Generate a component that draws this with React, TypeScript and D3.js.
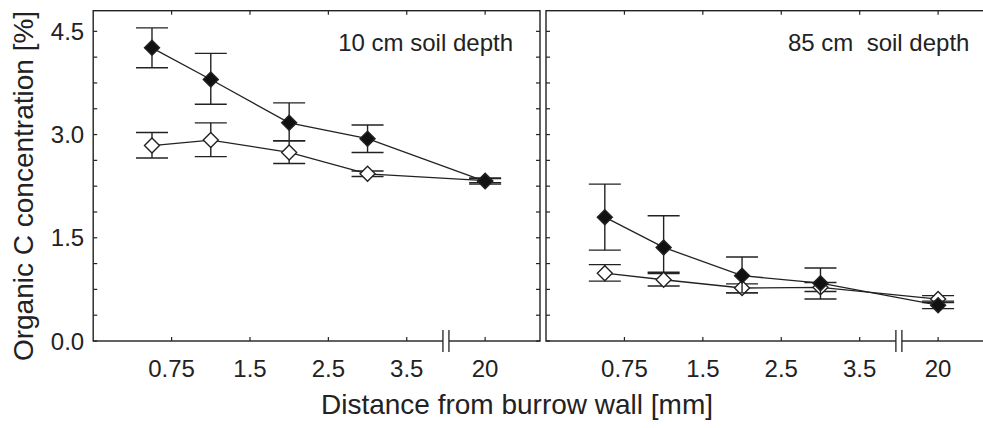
import React from "react";
import * as d3 from "d3";

// ---- data ----
const distanceLabels = ["0.75", "1.5", "2.5", "3.5", "20"];
const tickPositions = [1, 2, 3, 4, 5];
const pointPositions = [0.75, 1.5, 2.5, 3.5, 5];
const breakPosition = 4.5;

const yTickLabels = [0, 1.5, 3.0, 4.5];
const yMinorStep = 0.375;

const panelTitles = ["10 cm soil depth", "85 cm  soil depth"];

// 10 cm
const top_filledMean = [4.26, 3.8, 3.17, 2.94, 2.32];
const top_filledLo = [3.97, 3.44, 2.91, 2.74, 2.28];
const top_filledHi = [4.55, 4.18, 3.46, 3.14, 2.37];
const top_openMean = [2.84, 2.92, 2.74, 2.43, 2.33];
const top_openLo = [2.66, 2.68, 2.58, 2.39, 2.3];
const top_openHi = [3.03, 3.17, 2.91, 2.47, 2.36];

// 85 cm
const deep_filledMean = [1.8, 1.36, 0.95, 0.84, 0.52];
const deep_filledLo = [1.32, 1.0, 0.7, 0.61, 0.47];
const deep_filledHi = [2.28, 1.82, 1.22, 1.06, 0.58];
const deep_openMean = [0.985, 0.89, 0.77, 0.78, 0.61];
const deep_openLo = [0.87, 0.8, 0.7, 0.72, 0.56];
const deep_openHi = [1.11, 0.98, 0.83, 0.85, 0.66];

const INK = "#222";
const FONT = "'Liberation Sans', Arial, Helvetica, sans-serif";

type Series = { mean: number[]; lo: number[]; hi: number[]; filled: boolean };

function diamond(cx: number, cy: number, r: number) {
  return `M${cx},${cy - r}L${cx + r},${cy}L${cx},${cy + r}L${cx - r},${cy}Z`;
}

function Panel(props: {
  x0: number;
  width: number;
  top: number;
  bottom: number;
  title: string;
  titleX: number;
  titleAnchor: "start" | "end";
  series: Series[];
  showYLabels: boolean;
}) {
  const { x0, width, top, bottom, title, titleX, titleAnchor, series, showYLabels } = props;
  const x = d3.scaleLinear().domain([0, 5.7]).range([x0, x0 + width]);
  const y = d3.scaleLinear().domain([0, 4.8]).range([bottom, top]);
  const yTicks = d3.range(0, 4.5 + 1e-9, yMinorStep);
  const tl = 4;
  const capHalf = 16;
  const r = 7.5;
  const line = d3
    .line<number>()
    .x((_, i) => x(pointPositions[i]))
    .y((v) => y(v));
  const bx = x(breakPosition);
  return (
    <g>
      <rect x={x0} y={top} width={width} height={bottom - top} fill="none" stroke={INK} strokeWidth={1.4} />
      {yTicks.map((t, i) => (
        <g key={"yt" + i}>
          <line x1={x0} x2={x0 + tl} y1={y(t)} y2={y(t)} stroke={INK} strokeWidth={1.2} />
          <line x1={x0 + width} x2={x0 + width - tl} y1={y(t)} y2={y(t)} stroke={INK} strokeWidth={1.2} />
        </g>
      ))}
      {showYLabels &&
        yTickLabels.map((t, i) => (
          <text
            key={"yl" + i}
            x={x0 - 9}
            y={y(t) + 8.7}
            textAnchor="end"
            fontSize={24}
            fontFamily={FONT}
            fill={INK}
          >
            {d3.format(".1f")(t)}
          </text>
        ))}
      {tickPositions.map((p, i) => (
        <g key={"xt" + i}>
          <line x1={x(p)} x2={x(p)} y1={bottom} y2={bottom - tl} stroke={INK} strokeWidth={1.2} />
          <line x1={x(p)} x2={x(p)} y1={top} y2={top + tl} stroke={INK} strokeWidth={1.2} />
          <text
            x={x(p)}
            y={bottom + 36}
            textAnchor="middle"
            fontSize={24}
            fontFamily={FONT}
            fill={INK}
          >
            {distanceLabels[i]}
          </text>
        </g>
      ))}
      <rect x={bx - 3} y={bottom - 2} width={6} height={4} fill="#fff" />
      <line x1={bx - 3} x2={bx - 3} y1={bottom - 11} y2={bottom + 11} stroke={INK} strokeWidth={1.3} />
      <line x1={bx + 3} x2={bx + 3} y1={bottom - 11} y2={bottom + 11} stroke={INK} strokeWidth={1.3} />
      <text
        x={titleX}
        y={top + 40}
        textAnchor={titleAnchor}
        fontSize={24}
        fontFamily={FONT}
        fill={INK}
        style={{ whiteSpace: "pre" }}
      >
        {title}
      </text>
      {series.map((s, si) => (
        <g key={"s" + si}>
          <path d={line(s.mean) || ""} fill="none" stroke={INK} strokeWidth={1.3} />
          {s.mean.map((m, i) => {
            const cx = x(pointPositions[i]);
            return (
              <g key={"e" + i}>
                <line x1={cx} x2={cx} y1={y(s.lo[i])} y2={y(s.hi[i])} stroke={INK} strokeWidth={1.4} />
                <line x1={cx - capHalf} x2={cx + capHalf} y1={y(s.lo[i])} y2={y(s.lo[i])} stroke={INK} strokeWidth={1.4} />
                <line x1={cx - capHalf} x2={cx + capHalf} y1={y(s.hi[i])} y2={y(s.hi[i])} stroke={INK} strokeWidth={1.4} />
              </g>
            );
          })}
          {s.mean.map((m, i) => (
            <path
              key={"d" + i}
              d={diamond(x(pointPositions[i]), y(m), r)}
              fill={s.filled ? "#111" : "#fff"}
              stroke={INK}
              strokeWidth={1.4}
            />
          ))}
        </g>
      ))}
    </g>
  );
}

export default function App() {
  const W = 983;
  const H = 428;
  const top = 10.7;
  const bottom = 341;
  return (
    <svg
      width={W}
      height={H}
      viewBox={`0 0 ${W} ${H}`}
      style={{ position: "absolute", left: 0, top: 0, background: "#fff", display: "block" }}
    >
      <rect x={0} y={0} width={W} height={H} fill="#fff" />
      <Panel
        x0={93.2}
        width={446.8}
        top={top}
        bottom={bottom}
        title={panelTitles[0]}
        titleX={513}
        titleAnchor="end"
        showYLabels={true}
        series={[
          { mean: top_openMean, lo: top_openLo, hi: top_openHi, filled: false },
          { mean: top_filledMean, lo: top_filledLo, hi: top_filledHi, filled: true },
        ]}
      />
      <Panel
        x0={546}
        width={447}
        top={top}
        bottom={bottom}
        title={panelTitles[1]}
        titleX={788}
        titleAnchor="start"
        showYLabels={false}
        series={[
          { mean: deep_openMean, lo: deep_openLo, hi: deep_openHi, filled: false },
          { mean: deep_filledMean, lo: deep_filledLo, hi: deep_filledHi, filled: true },
        ]}
      />
      <text x={517} y={414} textAnchor="middle" fontSize={28} fontFamily={FONT} fill={INK}>
        Distance from burrow wall [mm]
      </text>
      <text
        transform={`translate(33,186) rotate(-90)`}
        textAnchor="middle"
        fontSize={28}
        fontFamily={FONT}
        fill={INK}
      >
        Organic C concentration [%]
      </text>
    </svg>
  );
}
